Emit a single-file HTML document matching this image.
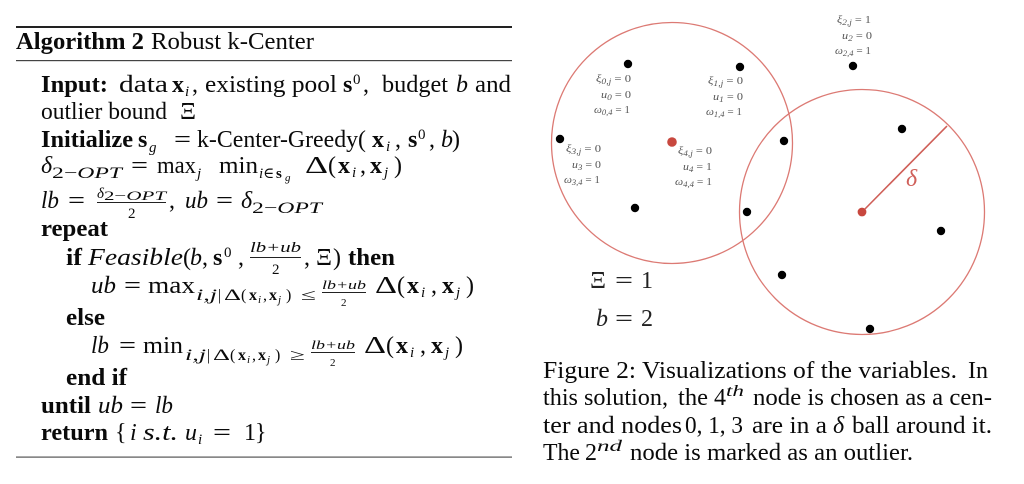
<!DOCTYPE html>
<html><head><meta charset="utf-8"><style>
html,body{margin:0;padding:0;background:#fff;width:1024px;height:484px;overflow:hidden}
svg{display:block}
text{font-family:"Liberation Serif","DejaVu Serif",serif;fill:#0a0a0a;white-space:pre}
.m{font-size:24px}
.b{font-weight:bold}
.i{font-style:italic}
.s{font-size:16px}
.t{font-size:15px}
.f{font-size:13px}
.n{font-size:11px}
.l{font-size:10.5px;fill:#555}
.l tspan.u{font-size:8px;font-style:italic}
.l tspan.v{font-style:italic}
.r{fill:none;stroke:#dc7a74;stroke-width:1.3}
.d{font-size:24px;fill:#222}
</style></head><body>
<svg width="1024" height="484" viewBox="0 0 1024 484" xmlns="http://www.w3.org/2000/svg" lengthAdjust="spacingAndGlyphs">
<rect x="16" y="26" width="496" height="2" fill="#222"/>
<rect x="16" y="60" width="496" height="1.2" fill="#444"/>
<rect x="16" y="456.5" width="496" height="1.2" fill="#555"/>

<text class="m b" x="16" y="49" textLength="128" lengthAdjust="spacingAndGlyphs">Algorithm 2</text>
<text class="m" x="151" y="49" textLength="163" lengthAdjust="spacingAndGlyphs">Robust k-Center</text>

<text class="m b" x="41" y="92" textLength="67" lengthAdjust="spacingAndGlyphs">Input:</text>
<text class="m" x="119" y="92" textLength="49" lengthAdjust="spacingAndGlyphs">data</text>
<text class="m b" x="172" y="92">x</text><text class="t i" x="185" y="96">i</text><text class="m" x="192" y="92">,</text>
<text class="m" x="205" y="92" textLength="132" lengthAdjust="spacingAndGlyphs">existing pool</text>
<text class="m b" x="343" y="92">s</text><text class="t" x="353" y="84">0</text><text class="m" x="363" y="92">,</text>
<text class="m" x="382" y="92" textLength="66" lengthAdjust="spacingAndGlyphs">budget</text>
<text class="m i" x="456" y="92">b</text>
<text class="m" x="475" y="92" textLength="36" lengthAdjust="spacingAndGlyphs">and</text>

<text class="m" x="41" y="119" textLength="126" lengthAdjust="spacingAndGlyphs">outlier bound</text>
<text class="m" x="180" y="119" textLength="16" lengthAdjust="spacingAndGlyphs">Ξ</text>

<text class="m b" x="41" y="147" textLength="92" lengthAdjust="spacingAndGlyphs">Initialize</text>
<text class="m b" x="138" y="147">s</text><text class="t i" x="149" y="152">g</text>
<text class="m" x="174" y="147" textLength="17" lengthAdjust="spacingAndGlyphs">=</text>
<text class="m" x="197" y="147" textLength="169" lengthAdjust="spacingAndGlyphs">k-Center-Greedy(</text>
<text class="m b" x="372" y="147">x</text><text class="t i" x="386" y="151">i</text><text class="m" x="395" y="147">,</text>
<text class="m b" x="408" y="147">s</text><text class="t" x="418" y="139">0</text><text class="m" x="429" y="147">,</text>
<text class="m i" x="441" y="147">b</text><text class="m" x="452" y="147">)</text>

<text class="m i" x="41" y="173">δ</text><text class="s i" x="52" y="178" textLength="70" lengthAdjust="spacingAndGlyphs"><tspan font-style="normal">2−</tspan>OPT</text>
<text class="m" x="131" y="173" textLength="17" lengthAdjust="spacingAndGlyphs">=</text>
<text class="m" x="157" y="173" textLength="39" lengthAdjust="spacingAndGlyphs">max</text><text class="t i" x="197" y="178">j</text>
<text class="m" x="219" y="173" textLength="39" lengthAdjust="spacingAndGlyphs">min</text><text class="t i" x="259" y="178">i∈</text><text class="t b" x="276" y="178">s</text><text class="n i" x="285" y="181">g</text>
<text class="m" x="305" y="173" textLength="23" lengthAdjust="spacingAndGlyphs">Δ</text><text class="m" x="328" y="173">(</text>
<text class="m b" x="338" y="173">x</text><text class="t i" x="352" y="177">i</text><text class="m" x="360" y="173">,</text>
<text class="m b" x="370" y="173">x</text><text class="t i" x="384" y="177">j</text><text class="m" x="394" y="173">)</text>

<text class="m i" x="41" y="208" textLength="18" lengthAdjust="spacingAndGlyphs">lb</text>
<text class="m" x="68" y="208" textLength="17" lengthAdjust="spacingAndGlyphs">=</text>
<text class="t i" x="97" y="198">δ</text><text class="f i" x="104" y="200" textLength="62" lengthAdjust="spacingAndGlyphs"><tspan font-style="normal">2−</tspan>OPT</text>
<rect x="97" y="202" width="69" height="1" fill="#222"/>
<text class="t" x="128" y="218">2</text>
<text class="m" x="169" y="208">,</text>
<text class="m i" x="185" y="208" textLength="23" lengthAdjust="spacingAndGlyphs">ub</text>
<text class="m" x="216" y="208" textLength="17" lengthAdjust="spacingAndGlyphs">=</text>
<text class="m i" x="241" y="208">δ</text><text class="s i" x="252" y="213" textLength="70" lengthAdjust="spacingAndGlyphs"><tspan font-style="normal">2−</tspan>OPT</text>

<text class="m b" x="41" y="236" textLength="67" lengthAdjust="spacingAndGlyphs">repeat</text>

<text class="m b" x="66" y="265" textLength="16" lengthAdjust="spacingAndGlyphs">if</text>
<text class="m i" x="88" y="265" textLength="95" lengthAdjust="spacingAndGlyphs">Feasible</text>
<text class="m" x="183" y="265">(</text><text class="m i" x="190" y="265">b</text><text class="m" x="202" y="265">,</text>
<text class="m b" x="213" y="265">s</text><text class="t" x="224" y="257">0</text><text class="m" x="238" y="265">,</text>
<text class="t i" x="250" y="252" textLength="51" lengthAdjust="spacingAndGlyphs">lb+ub</text>
<rect x="250" y="257" width="51" height="1" fill="#222"/>
<text class="t" x="272" y="274">2</text>
<text class="m" x="304" y="265">,</text>
<text class="m" x="316" y="265" textLength="16" lengthAdjust="spacingAndGlyphs">Ξ</text><text class="m" x="333" y="265">)</text>
<text class="m b" x="348" y="265" textLength="47" lengthAdjust="spacingAndGlyphs">then</text>

<text class="m i" x="91" y="293" textLength="25" lengthAdjust="spacingAndGlyphs">ub</text>
<text class="m" x="124" y="293" textLength="17" lengthAdjust="spacingAndGlyphs">=</text>
<text class="m" x="148" y="293" textLength="47" lengthAdjust="spacingAndGlyphs">max</text>
<text class="s i" x="196" y="300" textLength="21" lengthAdjust="spacingAndGlyphs">i,j</text><text class="s" x="218" y="300">|</text><text class="s" x="224" y="300" textLength="17" lengthAdjust="spacingAndGlyphs">Δ</text><text class="s" x="241" y="300">(</text>
<text class="s b" x="249" y="300">x</text><text class="n i" x="258" y="303">i</text><text class="s" x="263" y="300">,</text><text class="s b" x="269" y="300">x</text><text class="n i" x="278" y="303">j</text><text class="s" x="286" y="300">)</text><text class="s" x="301" y="300" textLength="15" lengthAdjust="spacingAndGlyphs">≤</text>
<text class="f i" x="322" y="289" textLength="44" lengthAdjust="spacingAndGlyphs">lb+ub</text>
<rect x="322" y="292" width="44" height="1" fill="#222"/>
<text class="n" x="341" y="306">2</text>
<text class="m" x="375" y="293" textLength="22" lengthAdjust="spacingAndGlyphs">Δ</text><text class="m" x="397" y="293">(</text>
<text class="m b" x="407" y="293">x</text><text class="t i" x="421" y="297">i</text><text class="m" x="431" y="293">,</text>
<text class="m b" x="442" y="293">x</text><text class="t i" x="456" y="297">j</text><text class="m" x="466" y="293">)</text>

<text class="m b" x="66" y="325" textLength="39" lengthAdjust="spacingAndGlyphs">else</text>

<text class="m i" x="91" y="353" textLength="18" lengthAdjust="spacingAndGlyphs">lb</text>
<text class="m" x="119" y="353" textLength="17" lengthAdjust="spacingAndGlyphs">=</text>
<text class="m" x="143" y="353" textLength="40" lengthAdjust="spacingAndGlyphs">min</text>
<text class="s i" x="185" y="360" textLength="21" lengthAdjust="spacingAndGlyphs">i,j</text><text class="s" x="207" y="360">|</text><text class="s" x="213" y="360" textLength="17" lengthAdjust="spacingAndGlyphs">Δ</text><text class="s" x="230" y="360">(</text>
<text class="s b" x="238" y="360">x</text><text class="n i" x="247" y="363">i</text><text class="s" x="252" y="360">,</text><text class="s b" x="258" y="360">x</text><text class="n i" x="267" y="363">j</text><text class="s" x="275" y="360">)</text><text class="s" x="290" y="360" textLength="15" lengthAdjust="spacingAndGlyphs">≥</text>
<text class="f i" x="311" y="349" textLength="44" lengthAdjust="spacingAndGlyphs">lb+ub</text>
<rect x="311" y="352" width="44" height="1" fill="#222"/>
<text class="n" x="330" y="366">2</text>
<text class="m" x="364" y="353" textLength="22" lengthAdjust="spacingAndGlyphs">Δ</text><text class="m" x="386" y="353">(</text>
<text class="m b" x="396" y="353">x</text><text class="t i" x="410" y="357">i</text><text class="m" x="420" y="353">,</text>
<text class="m b" x="431" y="353">x</text><text class="t i" x="445" y="357">j</text><text class="m" x="455" y="353">)</text>

<text class="m b" x="66" y="385" textLength="61" lengthAdjust="spacingAndGlyphs">end if</text>

<text class="m b" x="41" y="413" textLength="50" lengthAdjust="spacingAndGlyphs">until</text>
<text class="m i" x="98" y="413" textLength="25" lengthAdjust="spacingAndGlyphs">ub</text>
<text class="m" x="130" y="413" textLength="17" lengthAdjust="spacingAndGlyphs">=</text>
<text class="m i" x="155" y="413" textLength="18" lengthAdjust="spacingAndGlyphs">lb</text>

<text class="m b" x="41" y="440" textLength="67" lengthAdjust="spacingAndGlyphs">return</text>
<text class="m" x="115" y="440">{</text>
<text class="m i" x="130" y="440">i</text>
<text class="m i" x="143" y="440" textLength="35" lengthAdjust="spacingAndGlyphs">s.t.</text>
<text class="m i" x="185" y="440">u</text><text class="t i" x="198" y="444">i</text>
<text class="m" x="213" y="440" textLength="18" lengthAdjust="spacingAndGlyphs">=</text>
<text class="m" x="244" y="440">1</text><text class="m" x="255" y="440">}</text>

<!-- diagram -->
<circle class="r" cx="672" cy="143" r="120.5"/>
<circle class="r" cx="862" cy="212" r="122.5"/>
<line x1="862" y1="212" x2="947" y2="126" stroke="#cf5f58" stroke-width="1.6"/>
<g fill="#000">
<circle cx="628" cy="64" r="4.2"/><circle cx="740" cy="67" r="4.2"/><circle cx="560" cy="139" r="4.2"/>
<circle cx="635" cy="208" r="4.2"/><circle cx="853" cy="66" r="4.2"/><circle cx="784" cy="141" r="4.2"/>
<circle cx="902" cy="129" r="4.2"/><circle cx="747" cy="212" r="4.2"/><circle cx="941" cy="231" r="4.2"/>
<circle cx="782" cy="275" r="4.2"/><circle cx="870" cy="329" r="4.2"/>
</g>
<circle cx="672" cy="142" r="4.8" fill="#c8483f"/>
<circle cx="862" cy="212" r="4.4" fill="#c8483f"/>
<text x="906" y="186" style="font-size:24px;font-style:italic;fill:#d0605a">δ</text>

<text class="l" x="596" y="82" textLength="35" lengthAdjust="spacingAndGlyphs"><tspan class="v">ξ</tspan><tspan class="u" dy="2">0,j</tspan><tspan dy="-2"> = 0</tspan></text>
<text class="l" x="601" y="98" textLength="30" lengthAdjust="spacingAndGlyphs"><tspan class="v">u</tspan><tspan class="u" dy="2">0</tspan><tspan dy="-2"> = 0</tspan></text>
<text class="l" x="594" y="113" textLength="36" lengthAdjust="spacingAndGlyphs"><tspan class="v">ω</tspan><tspan class="u" dy="2">0,4</tspan><tspan dy="-2"> = 1</tspan></text>
<text class="l" x="708" y="84" textLength="35" lengthAdjust="spacingAndGlyphs"><tspan class="v">ξ</tspan><tspan class="u" dy="2">1,j</tspan><tspan dy="-2"> = 0</tspan></text>
<text class="l" x="713" y="100" textLength="30" lengthAdjust="spacingAndGlyphs"><tspan class="v">u</tspan><tspan class="u" dy="2">1</tspan><tspan dy="-2"> = 0</tspan></text>
<text class="l" x="706" y="115" textLength="36" lengthAdjust="spacingAndGlyphs"><tspan class="v">ω</tspan><tspan class="u" dy="2">1,4</tspan><tspan dy="-2"> = 1</tspan></text>
<text class="l" x="566" y="152" textLength="35" lengthAdjust="spacingAndGlyphs"><tspan class="v">ξ</tspan><tspan class="u" dy="2">3,j</tspan><tspan dy="-2"> = 0</tspan></text>
<text class="l" x="572" y="168" textLength="29" lengthAdjust="spacingAndGlyphs"><tspan class="v">u</tspan><tspan class="u" dy="2">3</tspan><tspan dy="-2"> = 0</tspan></text>
<text class="l" x="564" y="183" textLength="36" lengthAdjust="spacingAndGlyphs"><tspan class="v">ω</tspan><tspan class="u" dy="2">3,4</tspan><tspan dy="-2"> = 1</tspan></text>
<text class="l" x="678" y="154" textLength="34" lengthAdjust="spacingAndGlyphs"><tspan class="v">ξ</tspan><tspan class="u" dy="2">4,j</tspan><tspan dy="-2"> = 0</tspan></text>
<text class="l" x="683" y="170" textLength="29" lengthAdjust="spacingAndGlyphs"><tspan class="v">u</tspan><tspan class="u" dy="2">4</tspan><tspan dy="-2"> = 1</tspan></text>
<text class="l" x="675" y="185" textLength="37" lengthAdjust="spacingAndGlyphs"><tspan class="v">ω</tspan><tspan class="u" dy="2">4,4</tspan><tspan dy="-2"> = 1</tspan></text>
<text class="l" x="837" y="23" textLength="34" lengthAdjust="spacingAndGlyphs"><tspan class="v">ξ</tspan><tspan class="u" dy="2">2,j</tspan><tspan dy="-2"> = 1</tspan></text>
<text class="l" x="842" y="39" textLength="30" lengthAdjust="spacingAndGlyphs"><tspan class="v">u</tspan><tspan class="u" dy="2">2</tspan><tspan dy="-2"> = 0</tspan></text>
<text class="l" x="835" y="54" textLength="36" lengthAdjust="spacingAndGlyphs"><tspan class="v">ω</tspan><tspan class="u" dy="2">2,4</tspan><tspan dy="-2"> = 1</tspan></text>

<text class="d" x="590" y="288" textLength="16" lengthAdjust="spacingAndGlyphs">Ξ</text>
<text class="d" x="615" y="288" textLength="18" lengthAdjust="spacingAndGlyphs">=</text>
<text class="d" x="641" y="288">1</text>
<text class="d i" x="596" y="326">b</text>
<text class="d" x="615" y="326" textLength="18" lengthAdjust="spacingAndGlyphs">=</text>
<text class="d" x="641" y="326">2</text>

<!-- caption -->
<text class="m" x="543" y="378" textLength="414" lengthAdjust="spacingAndGlyphs">Figure 2: Visualizations of the variables.</text>
<text class="m" x="968" y="378" textLength="20" lengthAdjust="spacingAndGlyphs">In</text>
<text class="m" x="543" y="405" textLength="125" lengthAdjust="spacingAndGlyphs">this solution,</text>
<text class="m" x="678" y="405" textLength="30" lengthAdjust="spacingAndGlyphs">the</text>
<text class="m" x="714" y="405">4</text>
<text class="s i" x="726" y="396" textLength="18" lengthAdjust="spacingAndGlyphs">th</text>
<text class="m" x="753" y="405" textLength="239" lengthAdjust="spacingAndGlyphs">node is chosen as a cen-</text>
<text class="m" x="543" y="433" textLength="139" lengthAdjust="spacingAndGlyphs">ter and nodes</text>
<text class="m" x="685" y="433" textLength="58" lengthAdjust="spacingAndGlyphs">0, 1, 3</text>
<text class="m" x="752" y="433" textLength="75" lengthAdjust="spacingAndGlyphs">are in a</text>
<text class="m i" x="833" y="433">δ</text>
<text class="m" x="852" y="433" textLength="140" lengthAdjust="spacingAndGlyphs">ball around it.</text>
<text class="m" x="543" y="460" textLength="37" lengthAdjust="spacingAndGlyphs">The</text>
<text class="m" x="585" y="460">2</text>
<text class="s i" x="597" y="451" textLength="25" lengthAdjust="spacingAndGlyphs">nd</text>
<text class="m" x="630" y="460" textLength="283" lengthAdjust="spacingAndGlyphs">node is marked as an outlier.</text>
</svg>
</body></html>
